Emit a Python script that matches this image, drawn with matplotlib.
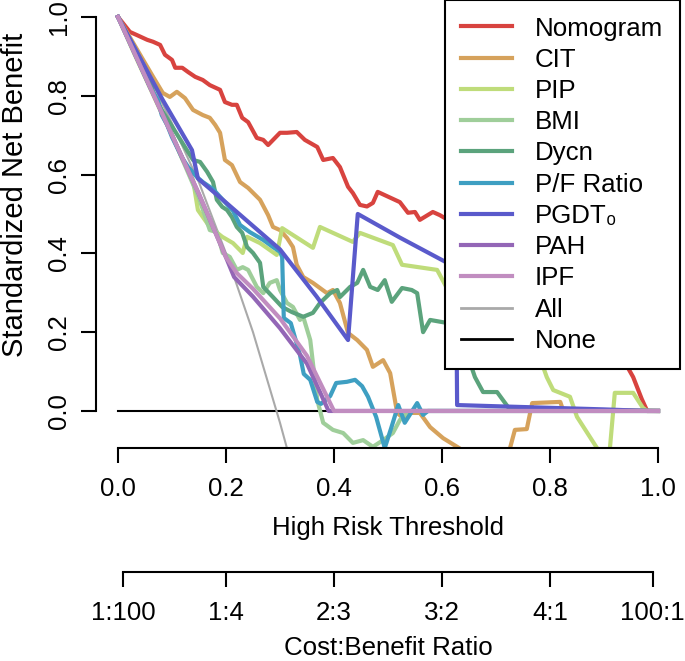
import matplotlib
matplotlib.use('Agg')
import matplotlib.pyplot as plt
from matplotlib.lines import Line2D

plt.rcParams['font.family'] = ['Liberation Sans', 'DejaVu Sans']

# Standardized net benefit curves
nomogram_t = [0, 0.022, 0.035, 0.054, 0.065, 0.078, 0.087, 0.1, 0.106, 0.119, 0.13, 0.143, 0.157, 0.17,
              0.189, 0.198, 0.211, 0.22, 0.23, 0.241, 0.257, 0.269, 0.278, 0.3, 0.313, 0.331, 0.346, 0.369,
              0.38, 0.398, 0.411, 0.426, 0.435, 0.448, 0.461, 0.472, 0.481, 0.522, 0.537, 0.55, 0.559, 0.583,
              0.596, 0.611, 0.7, 0.8, 0.9, 0.94, 0.954, 0.97, 0.98, 1.0]
nomogram_nb = [1.0, 0.962, 0.954, 0.942, 0.937, 0.929, 0.904, 0.891, 0.871, 0.871, 0.86, 0.848, 0.84, 0.827,
               0.815, 0.784, 0.777, 0.777, 0.744, 0.733, 0.693, 0.688, 0.675, 0.706, 0.706, 0.708, 0.688, 0.67,
               0.637, 0.642, 0.619, 0.569, 0.553, 0.523, 0.519, 0.528, 0.556, 0.53, 0.503, 0.505, 0.485, 0.505,
               0.497, 0.485, 0.42, 0.33, 0.2, 0.12, 0.086, 0.03, 0.0, 0.0]

cit_t = [0, 0.065, 0.083, 0.096, 0.109, 0.124, 0.139, 0.157, 0.17, 0.18, 0.189, 0.198, 0.211, 0.226, 0.241,
         0.263, 0.278, 0.287, 0.3, 0.313, 0.324, 0.331, 0.343, 0.361, 0.387, 0.398, 0.411, 0.426, 0.443, 0.461,
         0.472, 0.491, 0.504, 0.517, 0.528, 0.541, 0.559, 0.578, 0.602, 0.628, 0.652, 0.717, 0.726, 0.735,
         0.757, 0.767, 0.819, 0.824, 1.0]
cit_nb = [1.0, 0.848, 0.807, 0.797, 0.81, 0.794, 0.764, 0.751, 0.744, 0.726, 0.706, 0.637, 0.624, 0.581, 0.566,
          0.536, 0.497, 0.467, 0.459, 0.439, 0.416, 0.371, 0.34, 0.325, 0.299, 0.307, 0.274, 0.198, 0.18, 0.155,
          0.112, 0.129, 0.096, -0.005, -0.018, -0.005, -0.005, -0.041, -0.069, -0.091, -0.112, -0.112, -0.094,
          -0.048, -0.046, 0.02, 0.023, 0.003, 0.0]

pip_t = [0, 0.031, 0.078, 0.102, 0.12, 0.139, 0.148, 0.17, 0.193, 0.213, 0.231, 0.239, 0.263, 0.294, 0.304,
         0.361, 0.374, 0.435, 0.448, 0.509, 0.526, 0.591, 0.609, 0.615, 0.7, 0.78, 0.794, 0.806, 0.837, 0.85,
         0.887, 0.898, 0.911, 0.92, 0.954, 0.972, 0.98, 1.0]
pip_nb = [1.0, 0.904, 0.764, 0.695, 0.637, 0.586, 0.51, 0.467, 0.442, 0.426, 0.401, 0.442, 0.426, 0.396, 0.464,
          0.414, 0.467, 0.429, 0.452, 0.421, 0.371, 0.358, 0.312, 0.307, 0.25, 0.14, 0.086, 0.053, 0.036, -0.015,
          -0.094, -0.124, -0.094, 0.046, 0.046, 0.008, 0.0, 0.0]

bmi_t = [0, 0.05, 0.1, 0.15, 0.17, 0.183, 0.194, 0.207, 0.22, 0.231, 0.241, 0.257, 0.269, 0.281, 0.294, 0.3,
         0.313, 0.324, 0.337, 0.343, 0.356, 0.369, 0.38, 0.398, 0.417, 0.435, 0.454, 0.472, 0.491, 0.509, 0.522,
         0.535, 0.544, 1.0]
bmi_nb = [1.0, 0.86, 0.7, 0.54, 0.459, 0.454, 0.401, 0.391, 0.358, 0.365, 0.358, 0.315, 0.299, 0.325, 0.332,
          0.307, 0.274, 0.264, 0.231, 0.239, 0.18, 0.028, -0.03, -0.048, -0.056, -0.081, -0.074, -0.091, -0.074,
          -0.056, -0.023, -0.005, 0.0, 0.0]

dycn_t = [0, 0.035, 0.048, 0.059, 0.065, 0.081, 0.139, 0.152, 0.165, 0.176, 0.183, 0.193, 0.202, 0.211, 0.22,
          0.23, 0.239, 0.25, 0.263, 0.269, 0.287, 0.304, 0.322, 0.343, 0.361, 0.374, 0.393, 0.406, 0.411, 0.43,
          0.443, 0.454, 0.467, 0.481, 0.494, 0.507, 0.526, 0.544, 0.554, 0.565, 0.578, 0.611, 0.64, 0.661,
          0.676, 0.702, 0.726, 1.0]
dycn_nb = [1.0, 0.91, 0.873, 0.845, 0.807, 0.764, 0.637, 0.632, 0.607, 0.581, 0.536, 0.518, 0.51, 0.492, 0.467,
           0.452, 0.416, 0.401, 0.376, 0.315, 0.289, 0.264, 0.251, 0.239, 0.249, 0.274, 0.299, 0.307, 0.289,
           0.315, 0.325, 0.358, 0.315, 0.307, 0.332, 0.277, 0.312, 0.307, 0.299, 0.2, 0.231, 0.223, 0.17, 0.086,
           0.048, 0.048, 0.003, 0.0]

pf_t = [0, 0.03, 0.06, 0.074, 0.081, 0.091, 0.1, 0.109, 0.119, 0.13, 0.146, 0.157, 0.176, 0.194, 0.213, 0.226,
        0.244, 0.269, 0.287, 0.3, 0.304, 0.307, 0.32, 0.337, 0.344, 0.356, 0.369, 0.376, 0.393, 0.404, 0.424,
        0.439, 0.452, 0.463, 0.478, 0.494, 0.506, 0.519, 0.531, 0.554, 0.565, 0.574, 1.0]
pf_nb = [1.0, 0.91, 0.82, 0.789, 0.751, 0.726, 0.695, 0.67, 0.642, 0.619, 0.594, 0.581, 0.563, 0.536, 0.508,
         0.472, 0.454, 0.434, 0.416, 0.404, 0.391, 0.236, 0.223, 0.142, 0.094, 0.079, 0.023, 0.018, 0.038, 0.071,
         0.074, 0.079, 0.063, 0.036, -0.015, -0.094, -0.043, 0.015, -0.03, 0.02, -0.01, 0.0, 0.0]

pgdt_t = [0, 0.083, 0.137, 0.148, 0.194, 0.3, 0.368, 0.426, 0.444, 0.522, 0.611, 0.626, 0.628, 0.7, 0.8, 0.9,
          0.98, 1.0]
pgdt_nb = [1.0, 0.789, 0.662, 0.59, 0.536, 0.41, 0.29, 0.18, 0.5, 0.44, 0.375, 0.36, 0.015, 0.012, 0.008,
           0.004, 0.0, 0.0]

pah_t = [0, 0.05, 0.1, 0.15, 0.2, 0.215, 0.25, 0.3, 0.35, 0.39, 1.0]
pah_nb = [1.0, 0.85, 0.7, 0.55, 0.39, 0.34, 0.29, 0.21, 0.12, 0.0, 0.0]

ipf_t = [0, 0.05, 0.1, 0.15, 0.2, 0.22, 0.25, 0.3, 0.35, 0.4, 1.0]
ipf_nb = [1.0, 0.85, 0.7, 0.55, 0.39, 0.35, 0.31, 0.235, 0.14, 0.0, 0.0]

all_t = [0, 0.05, 0.1, 0.15, 0.2, 0.25, 0.3, 0.32]
all_nb = [1.0, 0.87, 0.73, 0.58, 0.4, 0.2, -0.03, -0.13]

none_t = [0, 1.0]
none_nb = [0, 0]

models = ['Nomogram', 'CIT', 'PIP', 'BMI', 'Dycn', 'P/F Ratio', 'PGDT\u2080', 'PAH', 'IPF']
model_curves = [(nomogram_t, nomogram_nb), (cit_t, cit_nb), (pip_t, pip_nb), (bmi_t, bmi_nb),
                (dycn_t, dycn_nb), (pf_t, pf_nb), (pgdt_t, pgdt_nb), (pah_t, pah_nb), (ipf_t, ipf_nb)]
colors = ['#D8433F', '#D6A25C', '#BFDC7A', '#9FCE9A', '#5BA37C', '#3E9FC2', '#5A5ACB', '#9366B6', '#C18DC0']

x_ticks = [0, 0.2, 0.4, 0.6, 0.8, 1.0]
x_labels = ['0.0', '0.2', '0.4', '0.6', '0.8', '1.0']
cb_ticks = [0.01, 0.2, 0.4, 0.6, 0.8, 0.99]
cb_labels = ['1:100', '1:4', '2:3', '3:2', '4:1', '100:1']

fig = plt.figure(figsize=(6.85, 6.61), dpi=100)
ax = fig.add_axes([96.4 / 685, 213 / 661, 583.2 / 685, 448 / 661])

# reference lines first, model curves on top
ax.plot(none_t, none_nb, color='black', lw=1.5)
ax.plot(all_t, all_nb, color='#A9A9A9', lw=1.5)
for (t, nb), c in zip(model_curves, colors):
    ax.plot(t, nb, color=c, lw=3)

ax.set_xlim(-0.04, 1.04)
ax.set_ylim(-0.094, 1.043)

for s in ['top', 'right']:
    ax.spines[s].set_visible(False)
ax.spines['left'].set_bounds(0, 1)
ax.spines['bottom'].set_bounds(0, 1)
ax.spines['left'].set_linewidth(1.5)
ax.spines['bottom'].set_linewidth(1.5)

ax.set_xticks(x_ticks, x_labels)
ax.set_yticks(x_ticks, x_labels)
ax.tick_params(length=11, width=1.5, labelsize=18.6)
ax.tick_params(axis='x', pad=10)
ax.tick_params(axis='y', pad=7)
for lbl in ax.get_yticklabels():
    lbl.set_rotation(90)
    lbl.set_va('center')

ax.set_xlabel('High Risk Threshold', fontsize=18.6, labelpad=11)
fig.text(1 / 685, 1 - 195 / 661, 'Standardized Net Benefit', rotation=90,
         ha='left', va='center', fontsize=21)

# cost:benefit ratio axis below
secax = ax.secondary_xaxis((448 - 572) / 448)
secax.set_xticks(cb_ticks, cb_labels)
secax.spines['bottom'].set_bounds(0.01, 0.99)
secax.spines['bottom'].set_linewidth(1.5)
secax.tick_params(length=11, width=1.5, labelsize=18.6, pad=10)
secax.set_xlabel('Cost:Benefit Ratio', fontsize=18.6, labelpad=8)

handles = [Line2D([], [], color=c, lw=3) for c in colors]
handles += [Line2D([], [], color='#A9A9A9', lw=2), Line2D([], [], color='black', lw=2)]
labels = models + ['All', 'None']
leg = ax.legend(handles, labels, loc='upper right', bbox_to_anchor=(1, 1), borderaxespad=0,
                fontsize=18.6, frameon=True, fancybox=False, framealpha=1, edgecolor='black',
                handlelength=1.95, handletextpad=0.9, labelspacing=0.28, borderpad=0.64)
leg.get_frame().set_linewidth(1.5)

fig.savefig('out.png', dpi=100)
